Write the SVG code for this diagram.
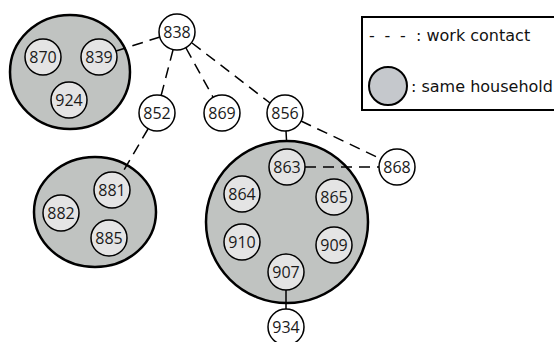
<svg xmlns="http://www.w3.org/2000/svg" width="554" height="342" viewBox="0 0 554 342">
  <style>
    .house { fill: #c0c3c1; stroke: #000; stroke-width: 2.5; }
    .node { fill: #fff; stroke: #000; stroke-width: 1.5; }
    .member { fill: #e4e4e4; stroke: #000; stroke-width: 1.5; }
    .lbl { font-family: "Open Sans", "DejaVu Sans", sans-serif; font-size: 16px; fill: #1a1a1a; text-anchor: middle; dominant-baseline: central; }
    .work { stroke: #000; stroke-width: 1.5; stroke-dasharray: 11 7; fill: none; }
    .solid { stroke: #000; stroke-width: 1.5; fill: none; }
    .legend-text { font-family: "DejaVu Sans", Verdana, sans-serif; font-size: 16px; fill: #111; }
  </style>

  <!-- households -->
  <g id="household-1"><ellipse class="house" cx="70" cy="72" rx="60" ry="57"/></g>
  <g id="household-2"><ellipse class="house" cx="95" cy="212" rx="61" ry="55"/></g>
  <g id="household-3"><circle class="house" cx="287" cy="222" r="81"/></g>

  <!-- connectors -->
  <g id="connectors">
    <line class="work" x1="160" y1="37" x2="116" y2="51"/>
    <line class="work" x1="173" y1="50" x2="161" y2="96"/>
    <line class="work" x1="186" y1="48" x2="213" y2="97"/>
    <line class="work" x1="192" y1="43" x2="270" y2="103"/>
    <line class="work" x1="148" y1="129" x2="121" y2="175"/>
    <line class="work" x1="286" y1="131" x2="287" y2="149"/>
    <line class="work" x1="301" y1="121" x2="381" y2="159"/>
    <line class="work" x1="305" y1="167" x2="379" y2="167"/>
    <line class="solid" x1="286" y1="272" x2="286" y2="327"/>
  </g>

  <!-- people -->
  <g id="n838"><circle class="node" cx="177" cy="32" r="18"/><text class="lbl" x="177" y="32">838</text></g>
  <g id="n870"><circle class="member" cx="43" cy="57" r="18"/><text class="lbl" x="43" y="57">870</text></g>
  <g id="n839"><circle class="member" cx="99" cy="57" r="18"/><text class="lbl" x="99" y="57">839</text></g>
  <g id="n924"><circle class="member" cx="69" cy="100" r="18"/><text class="lbl" x="69" y="100">924</text></g>
  <g id="n852"><circle class="node" cx="157" cy="113" r="18"/><text class="lbl" x="157" y="113">852</text></g>
  <g id="n869"><circle class="node" cx="222" cy="113" r="18"/><text class="lbl" x="222" y="113">869</text></g>
  <g id="n856"><circle class="node" cx="285" cy="113" r="18"/><text class="lbl" x="285" y="113">856</text></g>
  <g id="n881"><circle class="member" cx="112" cy="190" r="18"/><text class="lbl" x="112" y="190">881</text></g>
  <g id="n882"><circle class="member" cx="61" cy="213" r="18"/><text class="lbl" x="61" y="213">882</text></g>
  <g id="n885"><circle class="member" cx="109" cy="238" r="18"/><text class="lbl" x="109" y="238">885</text></g>
  <g id="n863"><circle class="member" cx="287" cy="167" r="18"/><text class="lbl" x="287" y="167">863</text></g>
  <g id="n864"><circle class="member" cx="242" cy="194" r="18"/><text class="lbl" x="242" y="194">864</text></g>
  <g id="n865"><circle class="member" cx="334" cy="197" r="18"/><text class="lbl" x="334" y="197">865</text></g>
  <g id="n910"><circle class="member" cx="242" cy="242" r="18"/><text class="lbl" x="242" y="242">910</text></g>
  <g id="n909"><circle class="member" cx="334" cy="245" r="18"/><text class="lbl" x="334" y="245">909</text></g>
  <g id="n907"><circle class="member" cx="286" cy="272" r="18"/><text class="lbl" x="286" y="272">907</text></g>
  <g id="n934"><circle class="node" cx="286" cy="327" r="18"/><text class="lbl" x="286" y="327">934</text></g>
  <g id="n868"><circle class="node" cx="397" cy="167" r="18"/><text class="lbl" x="397" y="167">868</text></g>

  <!-- legend -->
  <g id="legend">
    <rect x="362" y="17" width="200" height="93" fill="#fff" stroke="#000" stroke-width="2"/>
    <text class="legend-text" x="369" y="41" letter-spacing="2.3" xml:space="preserve">- - -</text>
    <text class="legend-text" x="416" y="41">: work contact</text>
    <circle cx="388" cy="86" r="19" fill="#c5c8cc" stroke="#000" stroke-width="2"/>
    <text class="legend-text" x="411" y="92">: same household</text>
  </g>
</svg>
